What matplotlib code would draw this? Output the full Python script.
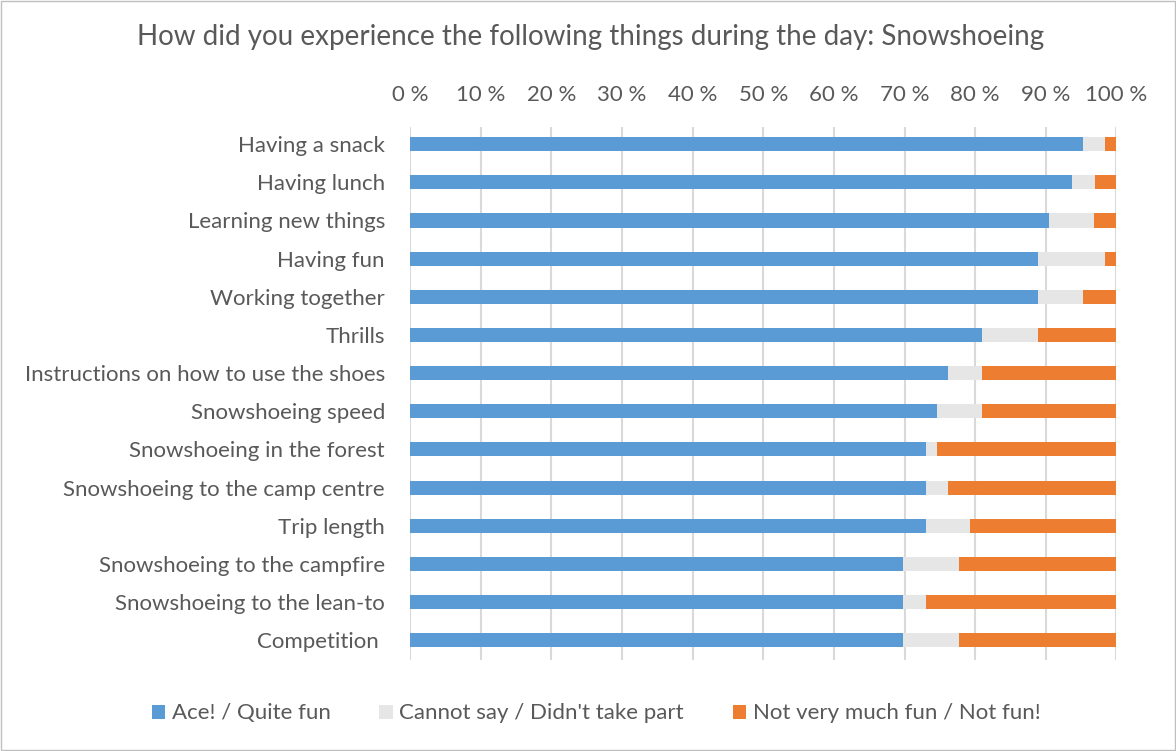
import matplotlib.pyplot as plt
from matplotlib.patches import Rectangle, Patch

plt.rcParams["font.family"] = ["Lato", "DejaVu Sans"]

TEXT_COLOR = "#595959"
COLORS = ["#5B9BD5", "#E7E6E6", "#ED7D31"]

categories = [
    "Having a snack",
    "Having lunch",
    "Learning new things",
    "Having fun",
    "Working together",
    "Thrills",
    "Instructions on how to use the shoes",
    "Snowshoeing speed",
    "Snowshoeing in the forest",
    "Snowshoeing to the camp centre",
    "Trip length",
    "Snowshoeing to the campfire",
    "Snowshoeing to the lean-to",
    "Competition ",
]

# shares in percent, top row first
fun = [95.2, 93.7, 90.5, 88.9, 88.9, 81.0, 76.2, 74.6, 73.0, 73.0, 73.0, 69.8, 69.8, 69.8]
cannot_say = [3.2, 3.2, 6.3, 9.5, 6.3, 7.9, 4.8, 6.3, 1.6, 3.2, 6.3, 7.9, 3.2, 7.9]
not_fun = [1.6, 3.1, 3.2, 1.6, 4.8, 11.1, 19.0, 19.1, 25.4, 23.8, 20.7, 22.3, 27.0, 22.3]

series_names = ["Ace! / Quite fun", "Cannot say / Didn't take part", "Not very much fun / Not fun!"]
xticks = [0, 10, 20, 30, 40, 50, 60, 70, 80, 90, 100]

fig = plt.figure(figsize=(11.76, 7.51), dpi=100)
ax = fig.add_axes([0.3486, 0.1211, 0.6008, 0.7098])

y = list(range(len(categories)))
left = [0] * len(categories)
for vals, color in zip([fun, cannot_say, not_fun], COLORS):
    ax.barh(y, vals, left=left, height=0.37, color=color, linewidth=0, zorder=3)
    left = [a + b for a, b in zip(left, vals)]

ax.set_xlim(0, 100)
ax.set_ylim(13.52, -0.45)
ax.set_yticks(y)
ax.set_yticklabels(categories, fontsize=16, color=TEXT_COLOR)
ax.xaxis.tick_top()
ax.set_xticks(xticks)
ax.set_xticklabels([f"{t} %" for t in xticks], fontsize=16, color=TEXT_COLOR)
ax.tick_params(axis="both", length=0)
ax.tick_params(axis="y", pad=18)
ax.tick_params(axis="x", pad=16)
ax.grid(axis="x", color="#D9D9D9", linewidth=1.5, zorder=0)
for s in ax.spines.values():
    s.set_visible(False)

fig.suptitle("How did you experience the following things during the day: Snowshoeing",
             x=0.502, y=0.968, fontsize=20, color=TEXT_COLOR)

handles = [Patch(facecolor=c, edgecolor="none") for c in COLORS]
fig.legend(handles, series_names, loc="center", bbox_to_anchor=(0.507, 0.05), ncol=3,
           frameon=False, fontsize=16, labelcolor=TEXT_COLOR, handlelength=0.6,
           handleheight=0.6, handletextpad=0.3, columnspacing=2.2)

fig.patches.append(Rectangle((0.001, 0.001), 0.998, 0.998, transform=fig.transFigure,
                             fill=False, edgecolor="#BFBFBF", linewidth=1))

fig.savefig("out.png", dpi=100)
